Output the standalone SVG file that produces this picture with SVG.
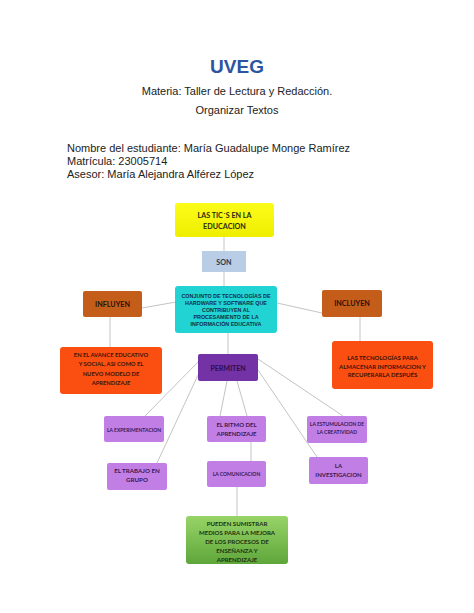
<svg xmlns="http://www.w3.org/2000/svg" width="474" height="613" viewBox="0 0 474 613">
<defs>
<style>
.hdr{font-family:"Liberation Sans",Arial,sans-serif;fill:#222}
.bx{font-family:Lato,"Open Sans",sans-serif;text-anchor:middle;font-weight:bold}
.cn{fill:none;stroke:#c4c4c4;stroke-width:1}
.lp{fill:#c17fe6}
.lpt{fill:#3a1650}
.or{fill:#fb4f12}
.ort{fill:#3a1408}
.br{fill:#c55d1a}
</style>
<linearGradient id="gg" x1="0" y1="0" x2="0" y2="1">
<stop offset="0" stop-color="#98d468"/>
<stop offset="1" stop-color="#5ea63a"/>
</linearGradient>
<linearGradient id="yg" x1="0" y1="0" x2="0" y2="1">
<stop offset="0" stop-color="#fcfc1a"/>
<stop offset="1" stop-color="#eeee00"/>
</linearGradient>
</defs>
<rect width="474" height="613" fill="#fff"/>
<g id="header">
<text x="237" y="73" text-anchor="middle" font-family="Liberation Sans,Arial,sans-serif" font-weight="bold" font-size="19" fill="#2b54a3">UVEG</text>
<text class="hdr" x="237" y="95" text-anchor="middle" font-size="11" fill="#333">Materia: Taller de Lectura y Redacción.</text>
<text class="hdr" x="237" y="114" text-anchor="middle" font-size="11" fill="#333">Organizar Textos</text>
<text class="hdr" x="67" y="152" font-size="11">Nombre del estudiante: María Guadalupe Monge Ramírez</text>
<text class="hdr" x="67" y="165" font-size="11">Matrícula: 23005714</text>
<text class="hdr" x="67" y="178" font-size="11">Asesor: María Alejandra Alférez López</text>
</g>
<g id="connectors">
<line class="cn" x1="224" y1="237" x2="224" y2="251"/>
<line class="cn" x1="224" y1="272" x2="224" y2="286"/>
<line class="cn" x1="228" y1="333" x2="228" y2="354"/>
<line class="cn" x1="176" y1="302" x2="142" y2="308"/>
<line class="cn" x1="277" y1="303" x2="322" y2="313"/>
<line class="cn" x1="110" y1="317" x2="110" y2="347"/>
<line class="cn" x1="360" y1="317" x2="360" y2="341"/>
<line class="cn" x1="198" y1="362" x2="145" y2="416"/>
<line class="cn" x1="198" y1="375" x2="157" y2="463"/>
<line class="cn" x1="227" y1="381" x2="220" y2="416"/>
<line class="cn" x1="237" y1="381" x2="247" y2="416"/>
<line class="cn" x1="251" y1="442" x2="251" y2="461"/>
<line class="cn" x1="258" y1="359" x2="343" y2="416"/>
<line class="cn" x1="258" y1="370" x2="317" y2="457"/>
<line class="cn" x1="237" y1="487" x2="237" y2="516"/>
</g>
<g id="n-tics">
<rect x="175" y="203" width="99" height="34" rx="3" fill="url(#yg)"/>
<text class="bx" x="224.5" y="218" font-size="7.2" fill="#2a2a10">LAS TIC´S EN LA</text>
<text class="bx" x="224.5" y="229" font-size="7.2" fill="#2a2a10">EDUCACION</text>
</g>
<g id="n-son">
<rect x="202" y="251" width="44" height="21" fill="#b9cde6"/>
<text class="bx" x="224" y="264.5" font-size="7.2" fill="#2a3550">SON</text>
</g>
<g id="n-conjunto">
<rect x="175" y="286" width="102" height="47" rx="3" fill="#22d3d3"/>
<g font-family="Liberation Sans,Arial,sans-serif" font-weight="bold" font-size="5.4" fill="#10304a" text-anchor="middle">
<text x="226" y="298">CONJUNTO DE TECNOLOGÍAS DE</text>
<text x="226" y="305">HARDWARE Y SOFTWARE QUE</text>
<text x="226" y="312">CONTRIBUYEN AL</text>
<text x="226" y="319">PROCESAMIENTO DE LA</text>
<text x="226" y="326">INFORMACIÓN EDUCATIVA</text>
</g>
</g>
<g id="n-influyen">
<rect class="br" x="83" y="291" width="59" height="26" rx="2"/>
<text class="bx" x="112.5" y="307" font-size="7.2" fill="#2a1206">INFLUYEN</text>
</g>
<g id="n-incluyen">
<rect class="br" x="322" y="290" width="60" height="27" rx="2"/>
<text class="bx" x="352" y="306" font-size="7.2" fill="#2a1206">INCLUYEN</text>
</g>
<g id="n-avance">
<rect class="or" x="60" y="347" width="102" height="47" rx="3"/>
<g class="bx ort" font-size="5.8">
<text x="111" y="357">EN EL AVANCE EDUCATIVO</text>
<text x="111" y="366">Y SOCIAL, ASI COMO EL</text>
<text x="111" y="375.5">NUEVO MODELO DE</text>
<text x="111" y="384.5">APRENDIZAJE</text>
</g>
</g>
<g id="n-tecnologias">
<rect class="or" x="332" y="341" width="101" height="48" rx="3"/>
<g class="bx ort" font-size="6">
<text x="382.5" y="360">LAS TECNOLOGÍAS PARA</text>
<text x="382.5" y="368.5">ALMACENAR INFORMACION Y</text>
<text x="382.5" y="377">RECUPERARLA DESPUÉS</text>
</g>
</g>
<g id="n-permiten">
<rect x="198" y="354" width="60" height="27" rx="2" fill="#7332a6"/>
<text class="bx" x="228" y="370.5" font-size="7" fill="#2e0e4a">PERMITEN</text>
</g>
<g id="n-experimentacion">
<rect class="lp" x="104" y="416" width="60" height="26" rx="2"/>
<text class="bx lpt" x="134" y="431.5" font-size="5">LA EXPERIMENTACION</text>
</g>
<g id="n-ritmo">
<rect class="lp" x="207" y="416" width="59" height="26" rx="2"/>
<text class="bx lpt" x="236.5" y="426.5" font-size="6">EL RITMO DEL</text>
<text class="bx lpt" x="236.5" y="435.5" font-size="6">APRENDIZAJE</text>
</g>
<g id="n-estimulacion">
<rect class="lp" x="307" y="416" width="60" height="27" rx="2"/>
<text class="bx lpt" x="337" y="426" font-size="5">LA ESTUMULACION DE</text>
<text class="bx lpt" x="337" y="434" font-size="5">LA CREATIVIDAD</text>
</g>
<g id="n-trabajo">
<rect class="lp" x="107" y="463" width="60" height="27" rx="2"/>
<text class="bx lpt" x="137" y="473" font-size="6.2">EL TRABAJO EN</text>
<text class="bx lpt" x="137" y="482" font-size="6.2">GRUPO</text>
</g>
<g id="n-comunicacion">
<rect class="lp" x="207" y="461" width="59" height="26" rx="2"/>
<text class="bx lpt" x="236.5" y="476" font-size="5">LA COMUNICACION</text>
</g>
<g id="n-investigacion">
<rect class="lp" x="309" y="457" width="59" height="27" rx="2"/>
<text class="bx lpt" x="338.5" y="468" font-size="6">LA</text>
<text class="bx lpt" x="338.5" y="476.5" font-size="6">INVESTIGACION</text>
</g>
<g id="n-pueden">
<rect x="186" y="516" width="102" height="48" rx="3" fill="url(#gg)"/>
<g class="bx" font-size="6.1" fill="#1e3210">
<text x="237" y="525.5">PUEDEN SUMISTRAR</text>
<text x="237" y="535">MEDIOS PARA LA MEJORA</text>
<text x="237" y="544">DE LOS PROCESOS DE</text>
<text x="237" y="553">ENSEÑANZA Y</text>
<text x="237" y="562">APRENDIZAJE</text>
</g>
</g>
</svg>
